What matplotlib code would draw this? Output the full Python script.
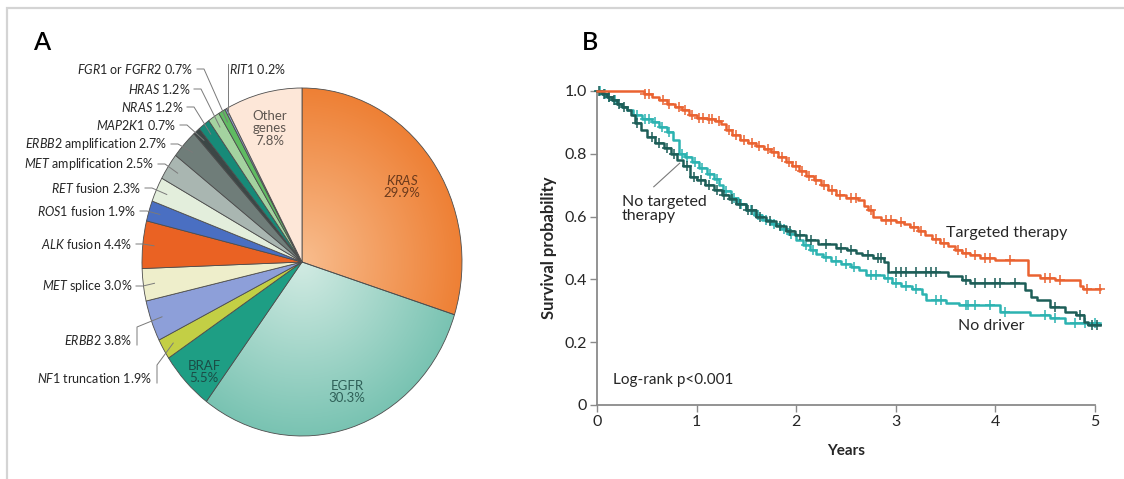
import numpy as np
import matplotlib
matplotlib.use("Agg")
import matplotlib.pyplot as plt
from matplotlib.patches import Rectangle
from matplotlib.colors import to_rgb

W, H = 1124, 479

# ---- panel A: driver alterations (% of patients), clockwise from 12 o'clock
genes = ["KRAS", "EGFR", "BRAF", "NF1 truncation", "ERBB2", "MET splice",
         "ALK fusion", "ROS1 fusion", "RET fusion", "MET amplification",
         "ERBB2 amplification", "MAP2K1", "NRAS", "HRAS", "FGR1 or FGFR2",
         "RIT1", "Other genes"]
shares = [29.9, 30.3, 5.5, 1.9, 3.8, 3.0, 4.4, 1.9, 2.3, 2.5, 2.7, 0.7,
          1.2, 1.2, 0.7, 0.2, 7.8]
pie_colors = ["#f08a3c", "#8fcdbd", "#1e9e84", "#c3cf45", "#8d9fd9", "#eeeecb",
              "#ea6223", "#4a6fc2", "#e3eedc", "#a9b6b1", "#6f7d79", "#3c4746",
              "#178a78", "#a4d3a0", "#5fbb62", "#8fa2cd", "#fde7d8"]

# ---- panel B: Kaplan-Meier step curves (years, survival probability)
tt_time = [0, 0.47, 0.55, 0.62, 0.70, 0.78, 0.85, 0.92, 1.00, 1.10,
           1.18, 1.24, 1.30, 1.36, 1.44, 1.52, 1.60, 1.68, 1.75, 1.82,
           1.90, 1.96, 2.03, 2.10, 2.18, 2.25, 2.32, 2.40, 2.50, 2.62,
           2.68, 2.72, 2.77, 2.85, 3.00, 3.08, 3.14, 3.22, 3.29, 3.36,
           3.44, 3.52, 3.59, 3.66, 3.74, 3.85, 4.00, 4.33, 4.45, 4.60,
           4.85, 4.88]
tt_surv = [1.0, 0.99, 0.98, 0.97, 0.96, 0.95, 0.94, 0.925, 0.915, 0.91,
           0.905, 0.895, 0.875, 0.86, 0.845, 0.835, 0.825, 0.815, 0.805, 0.79,
           0.775, 0.76, 0.745, 0.73, 0.715, 0.70, 0.685, 0.67, 0.66, 0.652,
           0.635, 0.62, 0.60, 0.59, 0.583, 0.575, 0.567, 0.555, 0.54, 0.53,
           0.515, 0.505, 0.493, 0.485, 0.477, 0.468, 0.461, 0.414, 0.405, 0.398,
           0.38, 0.368]
tt_cens = [0.48, 0.52, 0.66, 0.72, 0.82, 0.88, 0.95, 1.02, 1.06, 1.12, 1.15,
           1.22, 1.33, 1.40, 1.48, 1.56, 1.63, 1.72, 1.78, 1.86, 1.93, 2.0,
           2.06, 2.13, 2.2, 2.28, 2.36, 2.44, 2.55, 2.6, 2.75, 2.9, 2.95, 3.05,
           3.18, 3.25, 3.4, 3.48, 3.62, 3.7, 3.8, 3.9, 3.95, 4.15, 4.5, 4.55,
           4.65, 4.92, 5.05]

nd_time = [0, 0.05, 0.10, 0.15, 0.20, 0.25, 0.30, 0.36, 0.45, 0.55,
           0.62, 0.70, 0.76, 0.82, 0.88, 0.95, 1.02, 1.10, 1.17, 1.22,
           1.27, 1.35, 1.42, 1.50, 1.58, 1.66, 1.75, 1.84, 1.92, 2.00,
           2.07, 2.14, 2.20, 2.27, 2.35, 2.45, 2.55, 2.63, 2.70, 2.88,
           2.96, 3.05, 3.16, 3.26, 3.30, 3.50, 3.63, 4.05, 4.35, 4.55,
           4.70]
nd_surv = [1.0, 0.99, 0.98, 0.97, 0.96, 0.95, 0.94, 0.925, 0.91, 0.90,
           0.885, 0.87, 0.845, 0.80, 0.79, 0.775, 0.755, 0.735, 0.72, 0.70,
           0.68, 0.66, 0.64, 0.62, 0.605, 0.59, 0.575, 0.56, 0.545, 0.525,
           0.51, 0.495, 0.48, 0.47, 0.46, 0.45, 0.44, 0.43, 0.415, 0.405,
           0.39, 0.38, 0.37, 0.355, 0.335, 0.325, 0.318, 0.297, 0.286, 0.276,
           0.26]
nd_cens = [0.03, 0.08, 0.12, 0.18, 0.40, 0.48, 0.52, 0.58, 0.65, 0.72, 0.85,
           0.90, 0.98, 1.05, 1.13, 1.2, 1.3, 1.38, 1.45, 1.55, 1.62, 1.7, 1.78,
           1.88, 1.95, 2.1, 2.17, 2.3, 2.4, 2.5, 2.58, 2.75, 2.8, 2.92, 3.0,
           3.1, 3.2, 3.4, 3.45, 3.7, 3.72, 3.8, 3.95, 4.1, 4.5, 4.6, 4.8, 4.9,
           5.0]

nt_time = [0, 0.05, 0.10, 0.15, 0.20, 0.25, 0.30, 0.34, 0.38, 0.44,
           0.50, 0.58, 0.67, 0.74, 0.80, 0.86, 0.93, 1.00, 1.08, 1.17,
           1.25, 1.33, 1.40, 1.50, 1.60, 1.70, 1.80, 1.90, 1.99, 2.10,
           2.22, 2.40, 2.51, 2.60, 2.66, 2.77, 2.88, 2.92, 3.52, 3.66,
           3.74, 4.30, 4.36, 4.42, 4.55, 4.70, 4.81, 4.89, 4.93]
nt_surv = [1.0, 0.99, 0.98, 0.97, 0.96, 0.95, 0.94, 0.925, 0.897, 0.875,
           0.854, 0.835, 0.817, 0.80, 0.78, 0.76, 0.727, 0.715, 0.70, 0.685,
           0.67, 0.655, 0.64, 0.62, 0.60, 0.585, 0.57, 0.555, 0.54, 0.525,
           0.512, 0.50, 0.493, 0.485, 0.477, 0.467, 0.456, 0.422, 0.41, 0.398,
           0.387, 0.366, 0.345, 0.334, 0.313, 0.297, 0.286, 0.265, 0.255]
nt_cens = [0.02, 0.07, 0.12, 0.17, 0.22, 0.27, 0.4, 0.55, 0.62, 0.7, 0.77,
           0.9, 0.97, 1.04, 1.12, 1.2, 1.28, 1.36, 1.44, 1.52, 1.56, 1.64,
           1.74, 1.84, 1.94, 2.04, 2.15, 2.3, 2.45, 2.55, 2.72, 2.82, 2.85,
           3.0, 3.05, 3.1, 3.2, 3.3, 3.35, 3.4, 3.7, 3.8, 3.9, 4.0, 4.05, 4.2,
           4.6, 4.85, 4.97, 5.02]
follow_up_end = 5.05

plt.rcParams["font.family"] = ["Lato", "DejaVu Sans"]
plt.rcParams["mathtext.fontset"] = "custom"
plt.rcParams["mathtext.rm"] = "Lato"
plt.rcParams["mathtext.it"] = "Lato:italic"
plt.rcParams["mathtext.bf"] = "Lato:bold"

TXT = "#262626"

fig = plt.figure(figsize=(W / 100, H / 100), dpi=100)


def fig_box(x0, y0, x1, y1):
    # pixel box (top-left origin) -> figure fraction rect
    return [x0 / W, 1 - y1 / H, (x1 - x0) / W, (y1 - y0) / H]


# outer frame
fig.add_artist(Rectangle((7 / W, -0.05), 1.2, 1.05 - 8 / H, transform=fig.transFigure,
                         fill=False, edgecolor="#d4d4d4", linewidth=1.6))

# ================= panel A
cx, cy, rx, ry = 302, 262, 160, 174
axA = fig.add_axes(fig_box(cx - rx, cy - ry, cx + rx, cy + ry))
wedges, _ = axA.pie(shares, colors=pie_colors, startangle=90, counterclock=False,
                    radius=1, wedgeprops=dict(edgecolor="#4d4d4d", linewidth=0.6))

# radial shading on the two big slices
shade = {"KRAS": ("#f8bd8e", "#ee8035"), "EGFR": ("#d2ebe3", "#79c3b2")}
yy, xx = np.mgrid[-1:1:400j, -1:1:400j]
rr = np.clip(np.hypot(xx, yy), 0, 1)[..., None]
for w, g in zip(wedges, genes):
    if g in shade:
        c0, c1 = (np.array(to_rgb(c)) for c in shade[g])
        im = axA.imshow(c0 * (1 - rr) + c1 * rr, extent=(-1, 1, -1, 1), origin="lower",
                        aspect="auto", zorder=0.5)
        im.set_clip_path(w)
        w.set_facecolor("none")

axA.set_aspect("auto")
axA.set_xlim(-1, 1)
axA.set_ylim(-1, 1)
axA.axis("off")


def px2a(x, y):
    return (x - cx) / rx, (cy - y) / ry


def wedge_pt(w, r=0.93):
    a = np.deg2rad((w.theta1 + w.theta2) / 2)
    return r * np.cos(a), r * np.sin(a)


pretty = {
    "NF1 truncation": r"$\mathit{NF1}$ truncation",
    "ERBB2": r"$\mathit{ERBB2}$",
    "MET splice": r"$\mathit{MET}$ splice",
    "ALK fusion": r"$\mathit{ALK}$ fusion",
    "ROS1 fusion": r"$\mathit{ROS1}$ fusion",
    "RET fusion": r"$\mathit{RET}$ fusion",
    "MET amplification": r"$\mathit{MET}$ amplification",
    "ERBB2 amplification": r"$\mathit{ERBB2}$ amplification",
    "MAP2K1": r"$\mathit{MAP2K1}$",
    "NRAS": r"$\mathit{NRAS}$",
    "HRAS": r"$\mathit{HRAS}$",
    "FGR1 or FGFR2": r"$\mathit{FGR1}$ or $\mathit{FGFR2}$",
    "RIT1": r"$\mathit{RIT1}$",
}

# text edge (px), centre line (px), leader style
outer_layout = {
    "NF1 truncation": (152, 378, "up"),
    "ERBB2": (132, 340, "up"),
    "MET splice": (132, 286, "side"),
    "ALK fusion": (132, 244, "side"),
    "ROS1 fusion": (136, 211, "side"),
    "RET fusion": (141, 188, "side"),
    "MET amplification": (154, 164, "side"),
    "ERBB2 amplification": (167, 144, "side"),
    "MAP2K1": (176, 125, "side"),
    "NRAS": (183, 107, "side"),
    "HRAS": (190, 89, "side"),
    "FGR1 or FGFR2": (193, 69, "side"),
    "RIT1": (229, 69, "down"),
}

for w, g, s in zip(wedges, genes, shares):
    if g not in outer_layout:
        continue
    x, y, style = outer_layout[g]
    label = f"{pretty[g]} {s:.1f}%"
    wx, wy = wedge_pt(w, 0.97 if style == "down" else 0.93)
    if style == "side":
        pts = [px2a(x + 4, y), px2a(x + 11, y), (wx, wy)]
        ha = "right"
    elif style == "up":
        pts = [px2a(x + 5, y + 5), px2a(x + 5, y - 13), (wx, wy)]
        ha = "right"
    else:
        top = px2a(x, y - 5)
        pts = [(wx, top[1]), (wx, wy)]
        ha = "left"
    xs, ys = zip(*pts)
    axA.plot(xs, ys, color="#7a7a7a", lw=0.7, clip_on=False, zorder=3)
    tx, ty = px2a(x, y)
    axA.text(tx, ty, label, ha=ha, va="center", fontsize=9, color=TXT)

inner_layout = {
    "Other genes": (270, 128, "Other\ngenes\n{:.1f}%", "#5e5650"),
    "KRAS": (402, 186, "$\\mathit{{KRAS}}$\n{:.1f}%", "#6b3a1c"),
    "EGFR": (347, 392, "EGFR\n{:.1f}%", "#2f6058"),
    "BRAF": (204, 372, "BRAF\n{:.1f}%", "#1b4c46"),
}
for g, s in zip(genes, shares):
    if g in inner_layout:
        x, y, fmt, col = inner_layout[g]
        tx, ty = px2a(x, y)
        axA.text(tx, ty, fmt.format(s), ha="center", va="center", fontsize=9.5,
                 color=col, linespacing=1.05, zorder=4)

fig.text(33 / W, 1 - 42 / H, "A", fontsize=18, fontweight="semibold", va="center")
fig.text(582 / W, 1 - 42 / H, "B", fontsize=18, fontweight="semibold", va="center")

# ================= panel B
x_per_year = (1095 - 597) / 5
axB = fig.add_axes(fig_box(597, 91, 597 + x_per_year * 5.06, 405))
axB.set_xlim(0, 5.06)
axB.set_ylim(0, 1)

curves = [
    (nd_time, nd_surv, nd_cens, "#2cb3b1"),
    (nt_time, nt_surv, nt_cens, "#1d5e58"),
    (tt_time, tt_surv, tt_cens, "#ea6331"),
]
for t, s, cens, col in curves:
    t = np.array(t + [follow_up_end])
    s = np.array(s + [s[-1]])
    axB.step(t, s, where="post", color=col, lw=1.8, clip_on=False, zorder=3)
    c = np.array(cens)
    cy_ = s[np.searchsorted(t, c, side="right") - 1]
    axB.plot(c, cy_, ls="none", marker="+", ms=6.5, mew=1.1, color=col,
             clip_on=False, zorder=3)

for sp in ("top", "right"):
    axB.spines[sp].set_visible(False)
for sp in ("left", "bottom"):
    axB.spines[sp].set_color("#8a8a8a")
    axB.spines[sp].set_linewidth(1.3)
axB.spines["bottom"].set_bounds(0, 5)
axB.set_xticks(range(6))
axB.set_yticks([0, 0.2, 0.4, 0.6, 0.8, 1.0])
axB.set_yticklabels(["0", "0.2", "0.4", "0.6", "0.8", "1.0"])
axB.tick_params(length=5, width=1, color="#8a8a8a", labelsize=11.5,
                labelcolor=TXT, pad=2)

axB.text(0.25, 0.625, "No targeted\ntherapy", fontsize=11.5, color=TXT,
         va="center", ha="left", linespacing=1.0)
axB.plot([0.57, 0.83], [0.695, 0.77], color="#7a7a7a", lw=0.8)
axB.text(3.50, 0.548, "Targeted therapy", fontsize=11.5, color=TXT, va="center")
axB.text(3.62, 0.252, "No driver", fontsize=11.5, color=TXT, va="center")
axB.text(0.16, 0.08, "Log-rank p<0.001", fontsize=11, color=TXT, va="center")

fig.text(549 / W, 1 - 248 / H, "Survival probability", rotation=90, fontsize=12,
         fontweight="bold", color=TXT, ha="center", va="center")
fig.text(846 / W, 1 - 451 / H, "Years", fontsize=11, fontweight="bold",
         color=TXT, ha="center", va="center")

fig.savefig("out.png", dpi=100)
